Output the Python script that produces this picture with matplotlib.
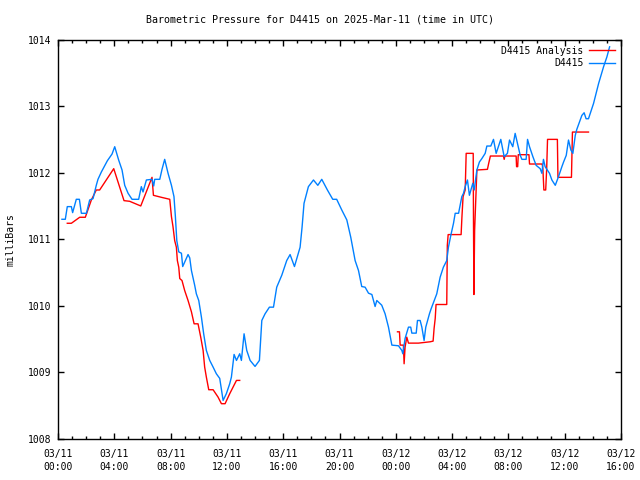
import numpy as np
import matplotlib
matplotlib.use("Agg")
import matplotlib.pyplot as plt
import matplotlib.dates as mdates

plt.rcParams['font.family'] = ['DejaVu Sans Mono', 'DejaVu Sans']

# hours after 2025-03-11 00:00 UTC, pressure in mb
obs_h = [0.28, 0.52, 0.66, 0.95, 1.04, 1.30, 1.52, 1.66, 2.02, 2.25, 2.49, 2.72, 2.84, 3.08,
         3.51, 3.84, 4.03, 4.31, 4.55, 4.74, 4.98, 5.26, 5.73, 5.92, 6.04, 6.28, 6.68, 6.80,
         6.87, 7.23, 7.39, 7.58, 7.82, 8.06, 8.24, 8.34, 8.44, 8.58, 8.77, 8.86, 9.24, 9.36,
         9.48, 9.71, 9.83, 10.00, 10.19, 10.35, 10.54, 10.78, 11.02, 11.25, 11.49, 11.66,
         11.73, 11.96, 12.20, 12.32, 12.51, 12.68, 12.91, 13.03, 13.22, 13.41, 13.65, 14.00,
         14.31, 14.48, 14.71, 15.02, 15.31, 15.54, 15.90, 16.25, 16.49, 16.80, 17.20, 17.34,
         17.48, 17.79, 18.15, 18.46, 18.74, 19.14, 19.52, 19.80, 20.16, 20.52, 20.80, 21.11,
         21.35, 21.58, 21.82, 22.06, 22.30, 22.53, 22.65, 23.00, 23.24, 23.48, 23.72, 24.19,
         24.43, 24.50, 24.66, 24.90, 25.06, 25.14, 25.45, 25.54, 25.73, 25.85, 26.01, 26.13,
         26.39, 26.50, 26.91, 27.15, 27.38, 27.62, 27.74, 27.91, 28.10, 28.22, 28.46, 28.69,
         28.81, 28.93, 29.09, 29.23, 29.47, 29.57, 29.76, 29.94, 30.11, 30.35, 30.47, 30.75,
         30.94, 31.13, 31.29, 31.46, 31.70, 31.93, 32.08, 32.31, 32.48, 32.64, 32.84, 32.96,
         33.26, 33.36, 33.50, 33.74, 33.97, 34.26, 34.38, 34.49, 34.61, 34.92, 35.09, 35.33,
         35.56, 35.80, 35.92, 36.11, 36.27, 36.44, 36.58, 36.75, 36.86, 37.22, 37.38, 37.52,
         37.69, 38.05, 38.41, 38.76, 39.00, 39.19]
obs_p = [1011.30, 1011.30, 1011.49, 1011.49, 1011.40, 1011.60, 1011.60, 1011.39, 1011.39,
         1011.59, 1011.61, 1011.81, 1011.90, 1012.01, 1012.18, 1012.28, 1012.39, 1012.19,
         1012.04, 1011.81, 1011.69, 1011.60, 1011.60, 1011.79, 1011.71, 1011.89, 1011.90,
         1011.80, 1011.90, 1011.90, 1012.05, 1012.20, 1011.99, 1011.81, 1011.64, 1011.34,
         1010.98, 1010.81, 1010.79, 1010.59, 1010.77, 1010.72, 1010.53, 1010.31, 1010.18,
         1010.08, 1009.83, 1009.58, 1009.33, 1009.18, 1009.08, 1008.98, 1008.91, 1008.68,
         1008.58, 1008.68, 1008.83, 1008.93, 1009.27, 1009.18, 1009.28, 1009.18, 1009.58,
         1009.33, 1009.18, 1009.09, 1009.18, 1009.78, 1009.88, 1009.98, 1009.98, 1010.28,
         1010.46, 1010.68, 1010.77, 1010.59, 1010.88, 1011.18, 1011.54, 1011.79, 1011.89,
         1011.81, 1011.90, 1011.74, 1011.60, 1011.60, 1011.44, 1011.29, 1011.03, 1010.68,
         1010.53, 1010.29, 1010.28, 1010.19, 1010.17, 1009.99, 1010.08, 1010.01, 1009.88,
         1009.68, 1009.41, 1009.40, 1009.33, 1009.28, 1009.51, 1009.68, 1009.68, 1009.59,
         1009.59, 1009.78, 1009.78, 1009.68, 1009.48, 1009.68, 1009.88, 1009.95, 1010.18,
         1010.43, 1010.58, 1010.68, 1010.88, 1011.06, 1011.24, 1011.39, 1011.39, 1011.64,
         1011.69, 1011.79, 1011.89, 1011.66, 1011.84, 1011.74, 1012.04, 1012.16, 1012.21,
         1012.29, 1012.40, 1012.40, 1012.50, 1012.29, 1012.39, 1012.50, 1012.24, 1012.29,
         1012.49, 1012.39, 1012.59, 1012.44, 1012.26, 1012.20, 1012.20, 1012.50, 1012.39,
         1012.24, 1012.11, 1012.06, 1011.99, 1012.20, 1012.09, 1011.99, 1011.89, 1011.81,
         1011.94, 1012.09, 1012.16, 1012.26, 1012.49, 1012.34, 1012.29, 1012.56, 1012.65,
         1012.86, 1012.90, 1012.81, 1012.81, 1013.04, 1013.34, 1013.59, 1013.74, 1013.89]

# analysis, first piece (03/11 day)
ana1_h = [0.66, 0.95, 1.54, 1.94, 2.37, 2.72, 2.96, 3.96, 4.69, 5.09, 5.88, 6.68, 6.78,
          7.34, 7.94, 8.06, 8.17, 8.29, 8.41, 8.48, 8.58, 8.65, 8.81, 9.00, 9.24, 9.48,
          9.67, 9.95, 10.14, 10.31, 10.42, 10.54, 10.71, 11.02, 11.37, 11.61, 11.87, 12.20,
          12.68, 12.91]
ana1_p = [1011.24, 1011.24, 1011.33, 1011.33, 1011.59, 1011.74, 1011.74, 1012.06, 1011.58,
          1011.57, 1011.50, 1011.93, 1011.66, 1011.63, 1011.60, 1011.34, 1011.19, 1010.98,
          1010.88, 1010.68, 1010.58, 1010.41, 1010.38, 1010.23, 1010.08, 1009.91, 1009.73,
          1009.73, 1009.53, 1009.33, 1009.08, 1008.93, 1008.74, 1008.74, 1008.63, 1008.53,
          1008.53, 1008.68, 1008.88, 1008.88]

# analysis, second piece (03/12)
ana2_h = [24.12, 24.26, 24.31, 24.54, 24.59, 24.66, 24.78, 24.90, 25.61, 26.44, 26.65,
          26.72, 26.80, 26.86, 27.62, 27.66, 27.72, 28.64, 28.70, 28.78, 28.93, 29.00,
          29.50, 29.52, 29.55, 29.57, 29.60, 29.76, 30.51, 30.60, 30.72, 31.65, 31.70,
          31.75, 32.55, 32.58, 32.66, 32.70, 33.46, 33.50, 34.40, 34.45, 34.52, 34.65,
          34.72, 34.78, 35.48, 35.52, 36.48, 36.55, 37.69]
ana2_p = [1009.61, 1009.61, 1009.41, 1009.41, 1009.13, 1009.38, 1009.53, 1009.44, 1009.44,
          1009.46, 1009.47, 1009.66, 1009.81, 1010.02, 1010.02, 1010.91, 1011.07, 1011.07,
          1011.34, 1011.64, 1011.74, 1012.29, 1012.29, 1011.24, 1010.17, 1010.54, 1011.13,
          1012.04, 1012.05, 1012.14, 1012.25, 1012.25, 1012.20, 1012.25, 1012.25, 1012.09,
          1012.09, 1012.27, 1012.27, 1012.13, 1012.13, 1012.06, 1011.74, 1011.74, 1012.06,
          1012.50, 1012.50, 1011.93, 1011.93, 1012.61, 1012.61]

t0 = np.datetime64('2025-03-11T00:00')

def to_time(hours):
    return t0 + (np.array(hours) * 3600).astype('timedelta64[s]')

fig = plt.figure(figsize=(6.4, 4.8), dpi=100)
ax = fig.add_axes([58/640, 1-439/480, (621-58)/640, (439-39.5)/480])

# red analysis with a gap overnight
ax.plot(to_time(ana1_h), ana1_p, color='#ff0000', lw=1.0, label='D4415 Analysis')
ax.plot(to_time(ana2_h), ana2_p, color='#ff0000', lw=1.0)
ax.plot(to_time(obs_h), obs_p, color='#0080ff', lw=1.0, label='D4415')

ax.set_xlim(t0, t0 + np.timedelta64(40, 'h'))
ax.set_ylim(1008, 1014)
ax.set_yticks(range(1008, 1015))
ax.xaxis.set_major_locator(mdates.HourLocator(byhour=range(0, 24, 4)))
ax.xaxis.set_minor_locator(mdates.HourLocator())
ax.xaxis.set_major_formatter(mdates.DateFormatter('%m/%d\n%H:%M'))

ax.tick_params(which='both', direction='in', top=True, right=True, labelsize=7, width=1)
ax.tick_params(which='major', length=4, pad=5)
ax.tick_params(axis='x', which='major', pad=7)
ax.tick_params(which='minor', length=2.5)
for lab in ax.get_xticklabels():
    lab.set_linespacing(1.4)
for s in ax.spines.values():
    s.set_linewidth(1)

leg = ax.legend(loc='upper right', frameon=False, markerfirst=False, fontsize=7,
                handlelength=2.6, handletextpad=0.6, borderaxespad=0.25, labelspacing=0.25)
for t in leg.get_texts():
    t.set_ha('right')

fig.text(0.5, 1-19/480, 'Barometric Pressure for D4415 on 2025-Mar-11 (time in UTC)',
         ha='center', va='center', fontsize=7.2)
fig.text(11/640, 0.5, 'milliBars', rotation=90, ha='center', va='center', fontsize=7)

fig.savefig('out.png', dpi=100)
